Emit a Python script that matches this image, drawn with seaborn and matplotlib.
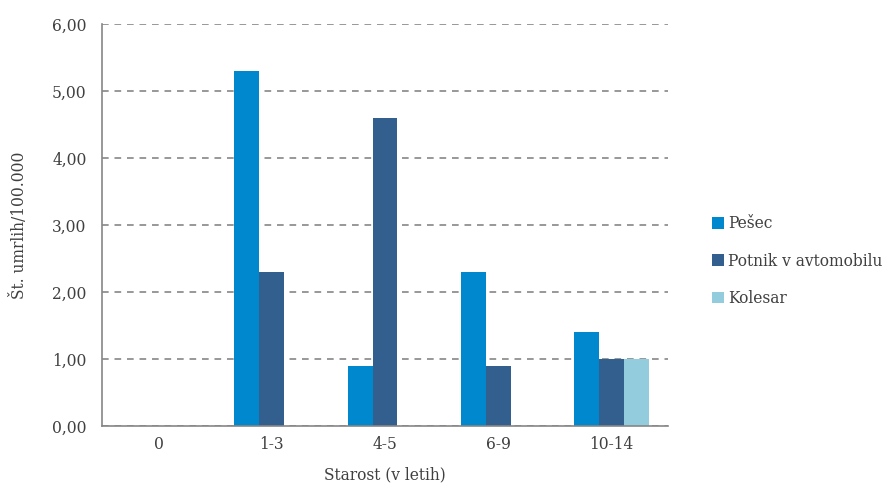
import matplotlib
matplotlib.use("Agg")
import matplotlib.pyplot as plt
import seaborn as sns
import pandas as pd
from matplotlib.ticker import FuncFormatter, FixedLocator
from matplotlib.patches import Patch

categories = ["0", "1-3", "4-5", "6-9", "10-14"]
series = ["Pešec", "Potnik v avtomobilu", "Kolesar"]
pesec = [0.0, 5.3, 0.9, 2.3, 1.4]
potnik = [0.0, 2.3, 4.6, 0.9, 1.0]
kolesar = [0.0, 0.0, 0.0, 0.0, 1.0]
colors = ["#0088CF", "#335F8E", "#93CDDD"]

rows = []
for name, vals in zip(series, [pesec, potnik, kolesar]):
    for c, v in zip(categories, vals):
        rows.append({"Starost": c, "Serija": name, "Vrednost": v})
df = pd.DataFrame(rows)

sns.set_style("white")
plt.rcParams["font.family"] = ["DejaVu Serif"]
textcol = "#404040"
gray = "#868686"
fs = 11.2

fig = plt.figure(figsize=(8.84, 4.87), dpi=100)
ax = fig.add_axes([0.1154, 0.1253, 0.6403, 0.8254])

sns.barplot(data=df, x="Starost", y="Vrednost", hue="Serija", order=categories,
            hue_order=series, palette=colors, width=0.66, linewidth=0,
            ax=ax, legend=False, saturation=1)

ax.set_ylim(0, 6)
ax.set_xlim(-0.5, 4.5)
ax.set_yticks([0, 1, 2, 3, 4, 5, 6])
ax.yaxis.set_major_formatter(FuncFormatter(lambda v, p: f"{v:.2f}".replace(".", ",")))
ax.yaxis.grid(True, linestyle=(0, (4, 3.5)), color=gray, linewidth=1.2)
ax.set_axisbelow(True)

for s in ["top", "right"]:
    ax.spines[s].set_visible(False)
for s in ["left", "bottom"]:
    ax.spines[s].set_color(gray)
    ax.spines[s].set_linewidth(1.2)

ax.tick_params(axis="x", which="major", length=0, pad=7, labelsize=fs, labelcolor=textcol)
ax.xaxis.set_minor_locator(FixedLocator([-0.5, 0.5, 1.5, 2.5, 3.5, 4.5]))
ax.tick_params(axis="x", which="minor", length=5, color=gray, width=1.2, direction="out")
ax.tick_params(axis="y", which="major", length=5, color=gray, width=1.2, direction="out",
               pad=6, labelsize=fs, labelcolor=textcol)

ax.set_xlabel("Starost (v letih)", fontsize=fs, color=textcol, labelpad=10)
ax.set_ylabel("Št. umrlih/100.000", fontsize=fs, color=textcol, labelpad=17)

handles = [Patch(facecolor=c, edgecolor="none") for c in colors]
fig.legend(handles, series, loc="center left", bbox_to_anchor=(0.79, 0.464),
           frameon=False, fontsize=fs, handlelength=0.75, handleheight=0.75,
           handletextpad=0.25, labelspacing=1.3, labelcolor=textcol)

fig.savefig("out.png", dpi=100)
